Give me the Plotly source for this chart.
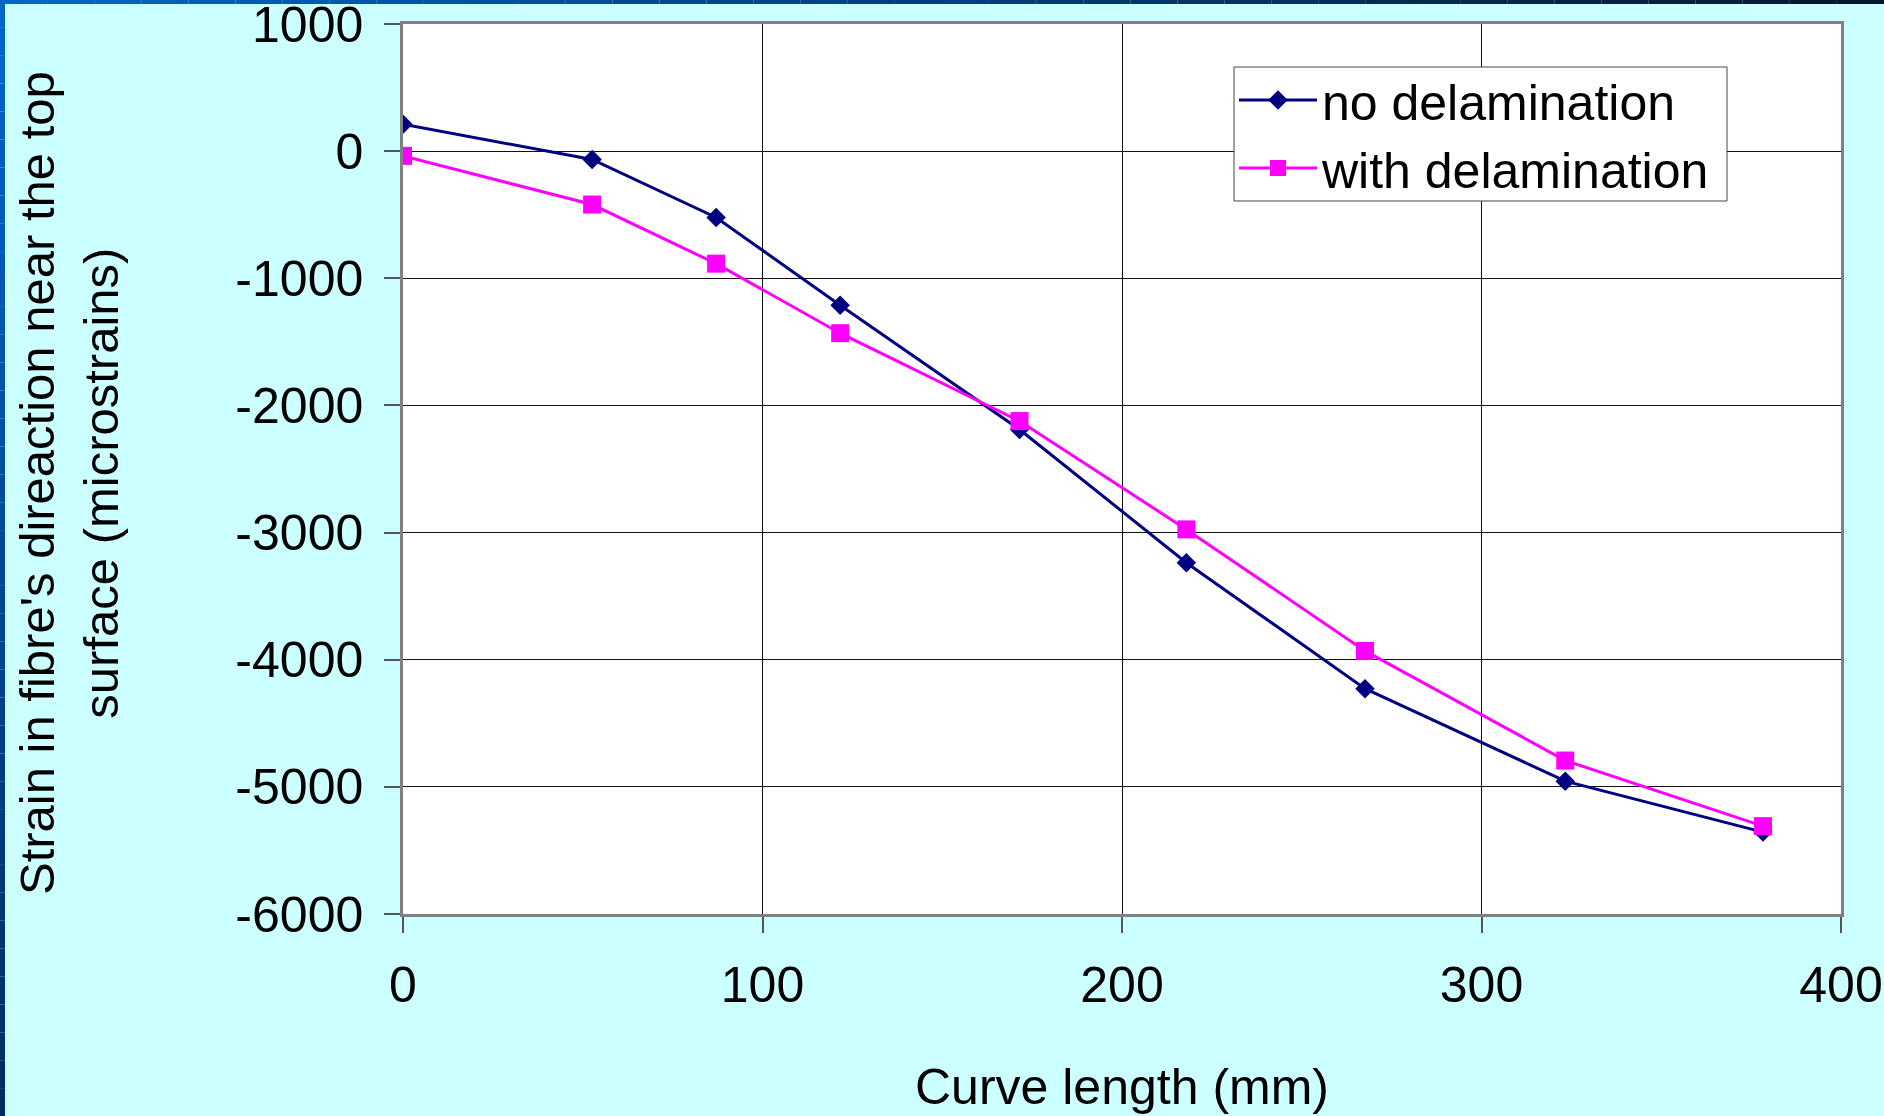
import plotly.graph_objects as go

# Curve length along the specimen (mm)
curve_length = [0, 52.6, 87.1, 121.6, 171.5, 217.9, 267.6, 323.3, 378.3]

# Strain in fibre direction near the top surface (microstrains)
no_delamination = [211, -65, -522, -1212, -2189, -3237, -4228, -4955, -5356]
with_delamination = [-37, -420, -885, -1432, -2123, -2975, -3931, -4793, -5309]

# Axis ticks
x_tick_vals = [0, 100, 200, 300, 400]
x_tick_text = ["0", "100", "200", "300", "400"]
y_tick_vals = [1000, 0, -1000, -2000, -3000, -4000, -5000, -6000]
y_tick_text = ["1000", "0", "-1000", "-2000", "-3000", "-4000", "-5000", "-6000"]

W, H = 1884, 1116
M_L, M_R, M_T, M_B = 403, 43, 24, 202
PW, PH = W - M_L - M_R, H - M_T - M_B

FONT = "Liberation Sans, Arial, sans-serif"


def px_x(px):
    return (px - M_L) / PW


def px_y(py):
    return (H - M_B - py) / PH


fig = go.Figure()

fig.add_trace(go.Scatter(
    x=curve_length, y=no_delamination, name="no delamination",
    mode="lines+markers",
    line=dict(color="#000080", width=3),
    marker=dict(symbol="diamond", size=15, color="#000080"),
))
fig.add_trace(go.Scatter(
    x=curve_length, y=with_delamination, name="with delamination",
    mode="lines+markers",
    line=dict(color="#FF00FF", width=3),
    marker=dict(symbol="square", size=18, color="#FF00FF"),
))

# Blue frame along the left and top edges of the slide, shading darker
shapes = []
n = 40
for i in range(n):
    t = i / (n - 1)
    g = int(0x66 + (0x2C - 0x66) * t)
    b = int(0xCC + (0x66 - 0xCC) * t)
    shapes.append(dict(
        type="rect", xref="paper", yref="paper", layer="above",
        x0=px_x(0), x1=px_x(5),
        y0=px_y(H * i / n), y1=px_y(H * (i + 1) / n),
        fillcolor=f"rgb(0,{g},{b})", line=dict(width=0),
    ))
    r2 = int(0x08 * t)
    g2 = int(0x64 + (0x18 - 0x64) * t)
    b2 = int(0xC8 + (0x2C - 0xC8) * t)
    shapes.append(dict(
        type="rect", xref="paper", yref="paper", layer="above",
        x0=px_x(W * i / n), x1=px_x(W * (i + 1) / n),
        y0=px_y(0), y1=px_y(4),
        fillcolor=f"rgb({r2},{g2},{b2})", line=dict(width=0),
    ))

# Legend frame
shapes.append(dict(
    type="rect", xref="paper", yref="paper", layer="above",
    x0=px_x(1234), x1=px_x(1727), y0=px_y(67), y1=px_y(201),
    fillcolor="#FFFFFF", line=dict(color="#444444", width=1),
))

axis_common = dict(
    showline=True, linecolor="#808080", linewidth=2.5, mirror=True,
    showgrid=True, gridcolor="#111111", gridwidth=1,
    zeroline=False, automargin=False,
    ticks="outside", ticklen=16, tickwidth=1.5, tickcolor="#555555",
    tickfont=dict(family=FONT, size=50, color="#000000"),
    ticklabeloverflow="allow",
)

fig.update_layout(
    width=W, height=H,
    margin=dict(l=M_L, r=M_R, t=M_T, b=M_B, pad=0),
    paper_bgcolor="#CCFFFF",
    plot_bgcolor="#FFFFFF",
    font=dict(family=FONT, color="#000000"),
    showlegend=True,
    legend=dict(
        x=px_x(1234), y=px_y(61), xanchor="left", yanchor="top",
        bgcolor="rgba(0,0,0,0)", borderwidth=0,
        font=dict(family=FONT, size=50, color="#000000"),
        itemwidth=78, tracegroupgap=0,
    ),
    xaxis=dict(
        range=[0, 400], tickvals=x_tick_vals, ticktext=x_tick_text,
        ticklabelstandoff=9, **axis_common,
    ),
    yaxis=dict(
        range=[-6000, 1000], tickvals=y_tick_vals, ticktext=y_tick_text,
        ticklabelstandoff=11, **axis_common,
    ),
    shapes=shapes,
    annotations=[
        dict(
            text="Curve length (mm)", xref="paper", yref="paper",
            x=px_x(1122), y=px_y(1087), xanchor="center", yanchor="middle",
            showarrow=False, font=dict(family=FONT, size=50, color="#000000"),
        ),
        dict(
            text="Strain in fibre's direaction near the top<br>surface (microstrains)",
            xref="paper", yref="paper",
            x=px_x(69), y=px_y(483), xanchor="center", yanchor="middle",
            textangle=-90, showarrow=False,
            font=dict(family=FONT, size=49, color="#000000"),
        ),
    ],
)

fig.write_html("out.html")
